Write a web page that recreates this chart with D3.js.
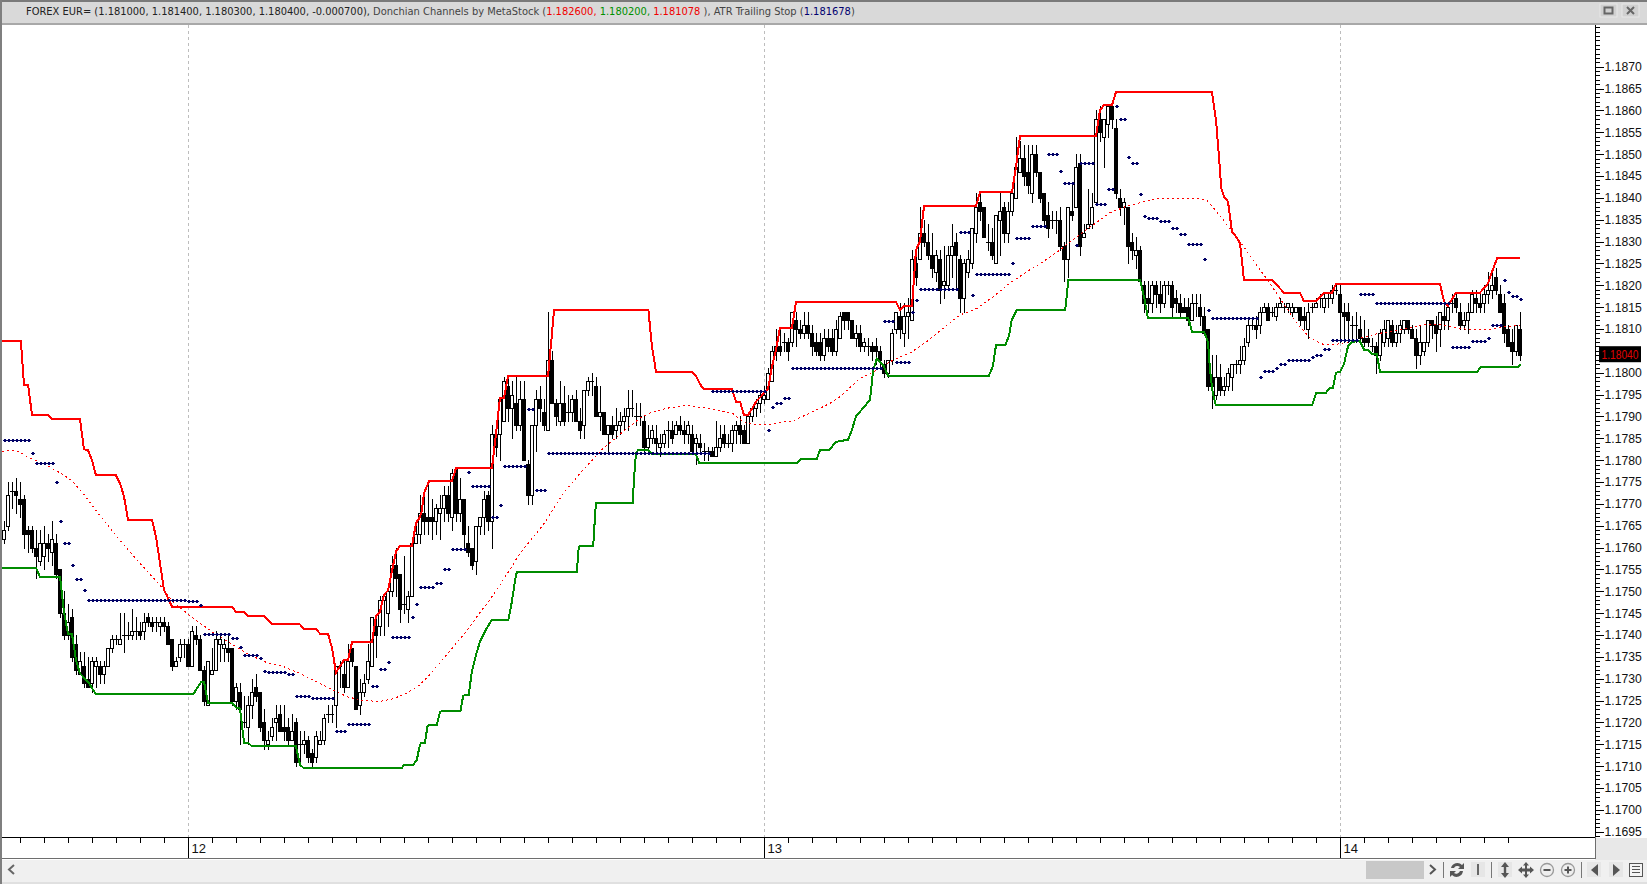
<!DOCTYPE html>
<html><head><meta charset="utf-8">
<style>
html,body{margin:0;padding:0;background:#fff;overflow:hidden}
text{font-family:"DejaVu Sans Condensed","DejaVu Sans",Tahoma,sans-serif}
</style>
<script src="https://cdnjs.cloudflare.com/ajax/libs/d3/7.8.5/d3.min.js"></script>
</head><body><svg id="c" width="1647" height="884"></svg>
<script>
// All series in 1/10000 above 1.1000 (762 means 1.1762). One entry per 10-minute bar.
const opens=[
762,765,773,773,771,771,764,764,760,757,
758,761,759,761,755,745,740,744,738,731,
733,730,729,733,733,731,733,737,739,738,
740,740,740,741,741,741,744,743,743,742,
743,742,739,733,735,738,738,733,740,739,
732,724,731,732,738,737,737,737,725,727,
720,719,724,728,727,720,715,717,720,722,
719,719,716,720,715,715,716,713,712,715,
716,722,722,724,733,731,728,737,733,724,
727,730,733,742,742,748,745,750,756,754,
747,746,749,761,763,768,767,767,766,768,
769,772,767,778,768,771,761,760,757,765,
767,772,766,786,786,789,797,792,793,788,
794,779,772,788,794,791,787,803,793,789,
793,791,791,794,789,788,796,798,797,790,
791,786,788,787,788,789,790,792,790,790,
789,783,785,785,783,784,787,787,786,788,
787,786,786,784,784,782,782,782,781,783,
786,784,784,787,788,787,784,790,792,793,
794,794,798,805,806,807,807,807,812,810,
809,811,809,807,807,804,808,808,805,808,
814,814,812,808,809,806,806,806,806,805,
802,800,803,810,813,809,813,812,825,826,
832,830,827,823,826,820,820,827,830,826,
817,823,825,832,839,838,830,830,825,835,
838,832,837,840,846,849,846,841,850,846,
841,836,835,835,835,829,826,837,838,848,
831,833,834,839,858,854,857,861,856,840,
838,838,830,827,828,820,817,816,820,818,
816,820,820,817,816,815,815,812,816,815,
813,810,799,795,799,796,797,799,802,802,
803,807,811,811,811,814,815,814,813,815,
815,815,814,814,815,813,810,815,815,817,
815,817,817,819,818,814,814,811,811,810,
808,808,806,806,804,807,808,811,807,809,
810,812,810,808,804,805,807,812,811,810,
813,812,816,817,814,811,812,814,817,816,
816,818,819,822,818,816,810,807,805,810];
const highs=[
766,775,775,776,775,772,765,765,764,764,
765,763,766,763,755,750,747,746,740,736,
736,735,735,735,734,734,737,740,740,745,
745,743,746,744,743,745,745,744,744,744,
744,743,739,735,739,739,739,742,742,740,
733,734,737,741,740,739,740,737,729,729,
726,726,730,731,727,723,718,721,724,724,
724,721,722,721,718,718,717,714,718,718,
722,724,724,733,734,734,738,737,733,730,
731,738,744,744,749,749,751,758,760,754,
758,750,761,765,772,772,775,771,770,772,
774,774,778,778,776,771,765,760,765,767,
773,773,788,788,794,799,799,798,799,798,
798,780,788,796,797,794,814,805,794,798,
797,795,795,796,792,796,799,800,799,797,
791,788,790,792,791,792,796,796,793,793,
790,788,788,788,786,787,789,789,789,790,
789,789,788,786,786,784,783,783,789,788,
788,786,788,789,790,788,790,792,794,796,
797,801,806,810,810,809,808,814,814,812,
814,814,811,809,809,810,810,810,812,814,
814,814,812,811,811,808,808,807,808,806,
803,803,810,814,816,816,817,828,829,838,
835,834,832,828,828,829,829,834,832,827,
826,828,833,841,841,838,834,833,836,841,
839,839,843,854,853,852,852,852,852,846,
841,839,837,837,838,830,838,843,850,850,
834,842,841,860,861,858,861,862,858,842,
840,838,832,831,829,821,821,821,821,821,
821,821,821,819,818,817,817,818,818,818,
815,810,804,804,802,799,801,802,803,806,
808,812,812,813,815,816,816,815,816,817,
816,816,816,815,815,815,816,816,817,818,
818,818,820,820,820,816,816,813,814,813,
812,810,808,807,810,812,812,812,811,812,
812,812,811,810,811,807,812,812,813,814,
816,816,818,818,816,814,816,819,819,818,
820,823,824,824,820,818,811,810,811,814];
const lows=[
761,764,769,768,767,760,759,759,753,756,
755,757,756,753,744,739,739,734,731,731,
728,728,727,728,729,729,733,736,738,738,
736,739,739,739,739,739,742,741,741,740,
741,738,732,733,734,735,733,733,738,732,
724,724,731,732,734,734,734,724,723,715,
719,715,721,725,718,714,714,716,716,718,
716,715,716,710,710,713,711,710,711,715,
715,720,720,719,728,727,728,733,723,722,
726,729,733,735,740,740,742,749,749,743,
745,743,749,761,761,763,763,762,763,762,
766,766,764,766,766,760,758,755,754,763,
763,764,760,781,780,789,789,785,787,787,
780,770,770,782,789,787,787,793,788,788,
788,789,789,789,785,785,795,795,790,787,
786,782,785,785,786,787,787,790,788,788,
782,782,784,782,781,783,783,784,786,786,
784,784,782,779,782,780,780,781,781,782,
783,783,782,784,784,784,784,789,790,791,
793,794,798,803,804,805,803,806,806,808,
808,808,804,804,803,803,805,804,804,808,
810,810,808,806,805,805,804,803,802,801,
799,799,802,809,808,806,808,812,820,826,
829,826,822,821,816,817,819,822,819,814,
814,822,824,830,835,831,828,826,825,827,
830,830,836,840,846,843,841,839,845,839,
834,831,833,832,828,821,822,835,838,827,
831,833,833,839,853,847,854,856,840,836,
834,825,826,824,821,814,814,814,815,814,
815,818,813,814,813,814,811,812,813,811,
809,796,792,794,795,795,796,796,800,800,
802,806,810,808,809,814,812,813,812,815,
814,814,813,814,811,810,808,814,815,815,
814,815,816,818,807,807,807,808,807,807,
806,806,805,800,803,806,806,806,806,807,
809,809,808,801,802,804,806,808,805,806,
810,810,814,814,810,810,809,814,814,814,
814,816,817,818,814,807,806,802,804,803];
const closes=[
764,772,773,772,770,763,763,760,758,761,
761,760,762,754,745,740,743,735,732,734,
729,728,734,734,731,733,737,739,739,739,
740,740,741,741,740,743,743,742,743,743,
742,738,733,734,738,738,733,741,739,732,
725,734,732,739,739,738,736,725,728,723,
720,724,727,726,719,716,716,719,721,718,
718,716,718,711,715,716,712,711,717,716,
721,722,722,733,733,728,734,734,723,727,
729,734,744,740,748,749,750,756,753,746,
747,749,761,763,768,766,766,766,769,769,
772,768,777,768,771,763,759,756,765,767,
771,766,786,783,794,798,792,795,788,794,
780,772,788,794,792,788,803,793,790,793,
789,791,794,789,787,796,798,798,790,791,
786,788,786,788,789,790,792,792,790,790,
783,785,787,784,784,786,787,785,788,787,
786,788,782,785,783,782,782,781,783,785,
784,784,787,788,786,784,790,792,793,795,
795,800,805,806,805,807,805,814,810,809,
811,809,806,805,804,808,806,805,810,813,
812,812,808,809,806,807,806,805,805,803,
800,803,809,814,810,813,814,826,822,832,
830,827,824,827,819,821,827,829,827,817,
825,826,833,838,837,831,830,827,836,837,
832,837,841,847,849,845,843,850,846,840,
835,833,835,835,829,826,838,836,847,829,
832,834,838,858,855,858,861,858,841,838,
839,829,828,828,821,816,816,820,818,816,
820,820,815,816,814,814,812,816,816,813,
809,797,797,799,796,797,800,802,802,803,
806,811,811,810,814,815,812,814,815,816,
815,816,815,815,812,812,814,815,816,817,
817,817,819,819,814,813,812,811,811,808,
807,807,806,804,809,810,812,807,809,811,
812,810,808,804,807,807,812,811,809,814,
812,815,816,815,811,812,814,818,816,815,
818,819,820,819,814,809,806,805,811,804];

// Donchian upper (red), lower (green), middle (dotted): bar number, level
const upperBars=[-0.5,4.2,4.8,5,6,7,11,12,19,20,21,22,23,28,29,30,31,37,38,40,42,57,58,60,61,65,67,74,75,78,79,81,82,83,85,86,87,92,93,94,95,96,98,99,102,103,104,104.4,105,106.3,112,113,122,123,124,125,126,136,137,137.5,161.1,162,163,172,173,174.4,175,182,183,184,185,186,187.3,188,191,192,193,194,197,198,223,224,225,227,228,229,230,243,244,252,253,254,273,274,275,277,278,302,303,304,304.3,305,306,307,308,309,310,317,320,324,325,328,330,332,333,359,360,361,363,369,371,372,373.3,379];
const upperVals=[807.3,807.3,799.9,797.3,797.3,790.4,790.4,789.3,789.3,782.5,782.3,780,776.5,776.5,774.7,771.7,766.3,766.3,762.5,750.3,746.5,746.5,745.3,745.3,744.4,744.4,742.4,742.4,741.4,741.4,740.3,740.3,737,731.4,734.3,734.3,738.3,738.3,744.4,745.3,749.2,750.2,759.1,760.4,760.4,765.6,767,768.2,772.4,775.3,775.3,778.2,778.2,786.1,794.2,794.2,799.2,799.2,809,814.3,814.3,806,800.2,800.2,799.2,796.8,796.3,796.3,793.4,793.4,790.3,790.3,792.2,793.4,796.2,801.4,805.2,810.3,810.3,816.2,816.2,814.3,815.3,815.3,828.1,830,838.1,838.1,841.3,841.3,847.1,854.1,854.1,860.1,861.2,861.2,864.2,864.2,857.8,846.4,842.2,840.3,839.1,832.3,831.1,829.6,821.2,821.2,818.3,818.3,816.3,816.3,818.3,818.3,820.3,820.3,816.3,815.3,818.3,818.3,820.4,823.1,826.2,826.2];
const lowerBars=[-0.5,8,9,14,15,16,17,18,19,21,23,47.3,49.3,50,51,57,58,59,60,61,62,73,74,75,99.4,100,102.3,103.2,103.8,104.2,105.2,105.9,106.3,108.2,109,109.3,114.1,114.8,115.3,116.2,116.9,118,119,120.7,122,126.1,126.9,127.8,128.2,143.2,143.7,144.3,147.3,147.8,148,157.2,157.5,158,158.5,161,162,173,173.8,198.4,199.2,203.2,204,206.3,207.8,209,211,212,213,215.6,216.5,217.3,218.2,219.8,221,246.2,247.2,248,250.3,251.3,251.9,253.2,265.3,266.1,284,285,286,296.1,297,300,301,301.5,302.2,303,327,328,330.5,331.3,332.2,333,334,335,336,337,339,340,341,342,343.2,344,368.3,369.2,378.6,379.2];
const lowerVals=[755.4,755.4,753.3,753.3,745.3,740.2,740.2,734.3,731.2,729.3,726.4,726.4,729.3,729.3,724.5,724.5,723.4,723.2,715.4,715.4,714.5,714.5,710.3,709.5,709.5,710.3,710.3,711.4,714.1,715.3,715.3,719.2,719.5,719.5,722.3,722.5,722.5,726.1,726.3,726.3,731.3,735.5,738.5,741.6,743.5,743.5,747.3,752.6,754.4,754.4,760.2,760.4,760.4,767.8,770.3,770.3,775.8,781.6,782.3,782.3,781.3,781.3,779.4,779.4,780.3,780.3,782.3,782.3,784,784.4,784.6,787,790,792.8,793.8,800.6,803.2,801.8,799.3,799.3,801.4,806.3,806.3,808.6,812,814.3,814.3,821.2,821.2,817.4,812.4,812.4,809.4,809.4,807,800.6,795.3,792.5,792.5,795.3,795.4,796.4,796.4,800,800.2,802,806,807.1,807.2,805.3,805.3,804.3,804.3,800.2,800.2,801.4,801.4,802];
const middleBars=[-0.5,2.3,4,6,9.8,14,17,19.8,23.2,27.3,30.7,34.8,38.6,42.3,45.7,49,53.2,57.3,61.5,65.7,69.8,74,78.2,82.3,85.7,89.8,94,97.3,100.7,103.7,106.5,109,111.7,114,116.5,118.7,121,124,126,129,134.8,139.8,144.8,149.8,154.8,159,162.3,166.5,170.7,174.8,179,182.3,184.8,187.8,191,194,197.3,202.3,206.5,209,214,218.2,222.3,226.5,230.7,234.8,239,243.2,247.3,251.5,255.7,259.8,264,268.2,272.3,276.5,280.7,284.8,289,294,298.2,300.7,303.2,306.5,309.8,313.2,316.5,319.8,323.2,326.5,329.8,333.2,336.5,339.8,343.2,346.5,350.7,354.8,359,363.2,367.3,371.5,374.8,379];
const middleVals=[782,782.2,781.8,780.6,779.3,777.1,775.3,772.4,768.2,763.6,759.8,755.6,751.8,747.6,745,742.7,740,737.7,735.4,733.7,732.8,731.2,729.3,727.4,725.9,725,724.8,725.4,726.7,728.4,731,733.7,736.6,739.1,741.9,744.8,747.5,751.5,754.3,758.7,765.2,772.4,777.8,782.7,786.5,789.6,791.1,792,792.5,792,791.3,790.6,788.8,788.2,788,788.6,789,791.1,793,794.5,798.7,800.6,802.9,804.5,807.1,810.2,813.2,814.7,817.4,820.5,823.1,825.4,828.1,831.1,833.8,836.6,838.1,839.1,839.9,839.9,839.9,839.4,836.8,833,829,824.6,820.4,815.9,811.3,807.9,806.5,806.5,807.1,808.1,808.9,809.4,810.2,811,811,810.2,809.8,809.8,810.5,810.8];

// ATR trailing stop: runs of bars (first, last) sharing one level
const atrFirst=[0,7,8,13,14,15,17,18,20,21,46,49,50,57,59,60,64,65,66,71,73,77,83,86,92,94,96,97,102,103,104,108,110,112,116,117,122,124,125,131,133,136,177,191,192,193,195,197,220,223,227,228,229,239,242,243,252,253,257,261,264,265,268,269,273,276,278,279,281,282,284,285,286,289,292,294,296,300,301,302,314,315,318,319,321,327,328,330,332,339,343,362,367,371,372,375,376,377,379];
const atrLast=[6,7,12,13,14,16,17,19,20,45,48,49,56,58,59,63,64,65,70,72,76,82,85,91,93,95,96,101,102,103,107,109,111,115,116,121,123,124,130,132,135,176,190,191,192,194,196,219,222,226,227,228,238,241,242,251,252,256,260,263,264,267,268,272,275,277,278,280,281,283,284,285,288,291,293,295,299,300,301,313,314,317,318,320,326,327,329,331,338,342,361,366,370,371,374,375,376,378,379];
const atrLevel=[784.5,781.6,779.4,775,766,761,756,752.7,750.2,748,747.7,746.8,740.2,739.2,737.3,735.4,734.7,731.7,731.5,731,726,725.5,718,719.6,728.3,732.2,733.8,739.5,744,747,750.9,751.8,755,759.6,777.2,774,766.9,769.7,778.6,791.6,773.1,781.6,795.7,787,792.1,793,794.2,801,811.8,802.4,813.8,816.6,819.1,832.1,817.7,822.5,825,830.7,833.5,850,846.1,843.3,829.1,847.9,838.7,842,861,858,849.3,847.9,840.8,835.8,835.5,834.8,833,831.7,829.4,825.9,814.3,812.4,799,800.3,801,802.1,802.8,803.7,804,805.4,807.4,817.9,815.9,805.8,807.2,807.9,810.8,821.1,818.4,817.5,816.8];

const priceTicks=[1.1695,1.1700,1.1705,1.1710,1.1715,1.1720,1.1725,1.1730,1.1735,1.1740,1.1745,1.1750,1.1755,1.1760,1.1765,1.1770,1.1775,1.1780,1.1785,1.1790,1.1795,1.1800,1.1805,1.1810,1.1815,1.1820,1.1825,1.1830,1.1835,1.1840,1.1845,1.1850,1.1855,1.1860,1.1865,1.1870];
const hiddenPriceLabel=1.1805; // covered by the last-price badge
const dayLabels=["12","13","14"];
const dayBars=[46,190,334];
const lastClose=1.1804;
const titleParts=[
 ["FOREX EUR= (1.181000, 1.181400, 1.180300, 1.180400, -0.000700), ","#222"],
 ["Donchian Channels by MetaStock (","#444"],
 ["1.182600, ","#f00000"],["1.180200, ","#009000"],["1.181078 ","#f00000"],
 ["), ATR Trailing Stop (","#444"],["1.181678","#000070"],[")","#444"]];

const P=v=>1.1+v/10000;
const svg=d3.select("#c");
const x=d3.scaleLinear().domain([0,379]).range([4,1520]);
const y=d3.scaleLinear().domain([1.1695,1.1870]).range([831.7,66.7]);
const plotTop=25, plotBottom=837.5, axisX=1595;
const axisFont='"Liberation Sans",Arial,sans-serif';

// frame
svg.append("rect").attr("width",1647).attr("height",884).attr("fill","#fff");
svg.append("rect").attr("x",0).attr("y",0).attr("width",1647).attr("height",2).attr("fill","#7a7a7a");
svg.append("rect").attr("x",0).attr("y",2).attr("width",1647).attr("height",21).attr("fill","#d9d9d9");
svg.append("rect").attr("x",0).attr("y",23).attr("width",1647).attr("height",2).attr("fill","#a8a8a8");
svg.append("rect").attr("x",axisX).attr("y",838).attr("width",52).attr("height",22).attr("fill","#e8e8e8");
svg.append("rect").attr("x",0).attr("y",860).attr("width",1647).attr("height",22).attr("fill","#f0f0f0");
svg.append("rect").attr("x",0).attr("y",882).attr("width",1647).attr("height",2).attr("fill","#e0e0e0");
svg.append("rect").attr("x",0).attr("y",0).attr("width",2).attr("height",884).attr("fill","#7f7f7f");

// day grid
svg.append("g").selectAll("line").data(dayBars).join("line")
 .attr("x1",d=>x(d)+.5).attr("x2",d=>x(d)+.5).attr("y1",plotTop).attr("y2",plotBottom)
 .attr("stroke","#bdbdbd").attr("stroke-dasharray","3,3");

// candles
const idx=d3.range(opens.length);
const g=svg.append("g").attr("shape-rendering","crispEdges");
g.selectAll("line.w").data(idx).join("line").attr("class","w")
 .attr("x1",i=>x(i)+.5).attr("x2",i=>x(i)+.5)
 .attr("y1",i=>Math.round(y(P(highs[i])))).attr("y2",i=>Math.round(y(P(lows[i])))+1)
 .attr("stroke","#000");
g.selectAll("rect.b").data(idx).join("rect").attr("class","b")
 .attr("x",i=>x(i)-1.5).attr("width",3)
 .attr("y",i=>Math.round(y(P(Math.max(opens[i],closes[i]))))+.5)
 .attr("height",i=>Math.abs(Math.round(y(P(opens[i])))-Math.round(y(P(closes[i]))))||0.01)
 .attr("fill",i=>closes[i]<opens[i]?"#000":"#fff")
 .attr("stroke","#000");

// lines
const ln=(bars,vals)=>d3.line().x((d,i)=>x(bars[i])).y((d,i)=>y(P(vals[i])))(vals);
svg.append("path").attr("d",ln(middleBars,middleVals)).attr("fill","none").attr("stroke","#f00").attr("stroke-width",1).attr("stroke-dasharray","2,3").attr("shape-rendering","crispEdges");
svg.append("path").attr("d",ln(lowerBars,lowerVals)).attr("fill","none").attr("stroke","#008c00").attr("stroke-width",2).attr("shape-rendering","crispEdges");
svg.append("path").attr("d",ln(upperBars,upperVals)).attr("fill","none").attr("stroke","#f00").attr("stroke-width",2).attr("shape-rendering","crispEdges");

// ATR dots
const dots=[];
atrFirst.forEach((a,k)=>{for(let i=a;i<=atrLast[k];i++)dots.push([i,atrLevel[k]]);});
const dg=svg.append("g").attr("fill","#000066").attr("shape-rendering","crispEdges");
dg.selectAll("rect.h").data(dots).join("rect").attr("class","h")
 .attr("x",d=>x(d[0])-1).attr("y",d=>Math.round(y(P(d[1])))).attr("width",4).attr("height",1);
dg.selectAll("rect.v").data(dots).join("rect").attr("class","v")
 .attr("x",d=>x(d[0])).attr("y",d=>Math.round(y(P(d[1])))-1).attr("width",2).attr("height",3);

// y axes
const allMinor=d3.range(11694,11880).map(v=>v/10000);
const yMinor=svg.append("g").attr("transform",`translate(${axisX+.5},0)`).attr("shape-rendering","crispEdges")
 .call(d3.axisRight(y).tickValues(allMinor).tickSize(4).tickSizeOuter(0).tickFormat(""));
yMinor.select(".domain").remove();
const yMajor=svg.append("g").attr("transform",`translate(${axisX+.5},0)`)
 .call(d3.axisRight(y).tickValues(priceTicks).tickSize(8).tickPadding(1).tickFormat(d=>d===hiddenPriceLabel?"":d3.format(".4f")(d)));
yMajor.select(".domain").remove();
yMajor.selectAll("line").attr("shape-rendering","crispEdges");
yMajor.selectAll("text").attr("font-size",12.2).attr("fill","#111").style("font-family",axisFont);
svg.append("line").attr("x1",axisX+.5).attr("x2",axisX+.5).attr("y1",plotTop).attr("y2",plotBottom).attr("stroke","#000");

// x axes
const minorBars=d3.range(4,380,6);
const xMinor=svg.append("g").attr("transform",`translate(0,${plotBottom})`).attr("shape-rendering","crispEdges")
 .call(d3.axisBottom(x).tickValues(minorBars).tickSize(5).tickSizeOuter(0).tickFormat(""));
xMinor.select(".domain").remove();
const xMajor=svg.append("g").attr("transform",`translate(0,${plotBottom})`).attr("shape-rendering","crispEdges")
 .call(d3.axisBottom(x).tickValues(dayBars).tickSize(20).tickSizeOuter(0).tickFormat((d,i)=>dayLabels[i]));
xMajor.select(".domain").remove();
xMajor.selectAll("text").attr("text-anchor","start").attr("x",3).attr("y",6).attr("dy",".71em").attr("font-size",13)
 .attr("fill","#111").style("font-family",axisFont);
svg.append("line").attr("x1",2).attr("x2",axisX).attr("y1",plotBottom).attr("y2",plotBottom).attr("stroke","#000").attr("shape-rendering","crispEdges");
svg.append("line").attr("x1",2).attr("x2",axisX+1).attr("y1",858.5).attr("y2",858.5).attr("stroke","#6e6e6e").attr("shape-rendering","crispEdges");
svg.append("line").attr("x1",axisX+.5).attr("x2",axisX+.5).attr("y1",838).attr("y2",858).attr("stroke","#6e6e6e").attr("shape-rendering","crispEdges");

// last price badge
const by=y(lastClose);
svg.append("rect").attr("x",1599).attr("y",by-9).attr("width",42).attr("height",16).attr("fill","#000");
svg.append("text").attr("x",1601.5).attr("y",by+3.5).attr("font-size",12).attr("fill","#e00000")
 .attr("textLength",37).attr("lengthAdjust","spacingAndGlyphs").style("font-family",axisFont).text(lastClose.toFixed(5));

// title
const t=svg.append("text").attr("x",26).attr("y",14.5).attr("font-size",11).attr("xml:space","preserve").style("white-space","pre");
titleParts.forEach(p=>t.append("tspan").attr("fill",p[1]).text(p[0]));

// window buttons
[[1600,"m"],[1622,"c"]].forEach(([bx,k])=>{
 svg.append("rect").attr("x",bx).attr("y",4).attr("width",17).attr("height",13).attr("fill","#d0d0d0").attr("stroke","#e8e8e8");
 if(k==="m") svg.append("rect").attr("x",bx+4.5).attr("y",7.5).attr("width",8).attr("height",6).attr("fill","none").attr("stroke","#666").attr("stroke-width",2);
 else svg.append("path").attr("d",`M${bx+5} 7L${bx+12} 14M${bx+12} 7L${bx+5} 14`).attr("stroke","#666").attr("stroke-width",2).attr("fill","none");
});

// toolbar
const tb=svg.append("g");
tb.append("path").attr("d","M14 865L9 869.5L14 874").attr("stroke","#666").attr("stroke-width",2).attr("fill","none");
tb.append("rect").attr("x",1366).attr("y",861).attr("width",58).attr("height",18).attr("fill","#c8c8c8");
tb.append("path").attr("d","M1430 865L1435 869.5L1430 874").attr("stroke","#555").attr("stroke-width",2).attr("fill","none");
[1443.5,1491.5,1581.5].forEach(v=>tb.append("line").attr("x1",v).attr("x2",v).attr("y1",862).attr("y2",878).attr("stroke","#777"));
[1478,1505,1594,1616].forEach(v=>tb.append("rect").attr("x",v-7).attr("y",862).attr("width",14).attr("height",15).attr("fill","#e6e6e6"));
tb.append("path").attr("d","M1451 868A6.5 6.5 0 0 1 1462 865L1464 863V869H1458L1460 867A4 4 0 0 0 1454 868ZM1463 871A6.5 6.5 0 0 1 1452 875L1450 877V871H1456L1454 873A4 4 0 0 0 1460 871Z").attr("fill","#555");
tb.append("rect").attr("x",1477).attr("y",864).attr("width",2).attr("height",11).attr("fill","#666");
tb.append("path").attr("d","M1505 862L1509 867H1506.2V873H1509L1505 878L1501 873H1503.8V867H1501Z").attr("fill","#555");
tb.append("path").attr("d","M1526 862L1529 865.5H1527V868.5H1530V866.5L1534 870L1530 873.5V871.5H1527V874.5H1529L1526 878L1523 874.5H1525V871.5H1522V873.5L1518 870L1522 866.5V868.5H1525V865.5H1523Z").attr("fill","#555");
[[1547,0],[1568,1]].forEach(([cx,plus])=>{
 tb.append("circle").attr("cx",cx).attr("cy",870).attr("r",6.5).attr("fill","#eee").attr("stroke","#999").attr("stroke-width",1.3);
 tb.append("rect").attr("x",cx-3.5).attr("y",869).attr("width",7).attr("height",2).attr("fill","#555");
 if(plus) tb.append("rect").attr("x",cx-1).attr("y",866.5).attr("width",2).attr("height",7).attr("fill","#555");
});
tb.append("path").attr("d","M1598 864V876L1591 870Z").attr("fill","#555");
tb.append("path").attr("d","M1613 864V876L1620 870Z").attr("fill","#555");
tb.append("rect").attr("x",1629.5).attr("y",863.5).attr("width",13).attr("height",13).attr("fill","#f4f4f4").attr("stroke","#555");
[866.5,869.5,872.5].forEach(v=>tb.append("line").attr("x1",1632).attr("x2",1640).attr("y1",v).attr("y2",v).attr("stroke","#555"));
</script></body></html>
